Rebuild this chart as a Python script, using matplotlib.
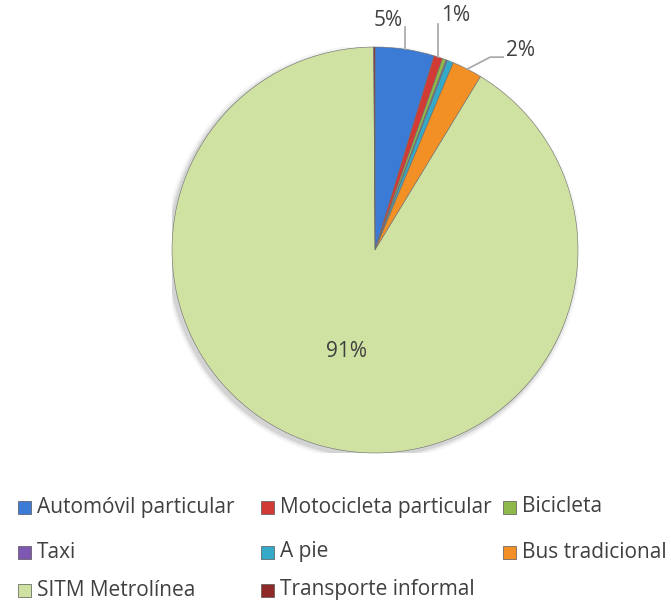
import numpy as np
import matplotlib.pyplot as plt
from matplotlib.patches import Rectangle, Circle

plt.rcParams['font.family'] = ['Open Sans', 'DejaVu Sans']

# modos de transporte (porcentaje de viajes)
modos = ['Automóvil particular', 'Motocicleta particular', 'Bicicleta',
         'Taxi', 'A pie', 'Bus tradicional', 'SITM Metrolínea',
         'Transporte informal']
valores = [4.7, 0.7, 0.3, 0.1, 0.5, 2.4, 91.2, 0.1]
colores = ['#3b7bd6', '#d23a36', '#8fb84a', '#7e57b0', '#35aac8',
           '#f39025', '#cfe2a2', '#8e2a28']
# etiquetas visibles en el grafico (las demas fueron borradas)
etiquetas = {0: '5%', 1: '1%', 5: '2%', 6: '91%'}

W, H = 671, 604
fig = plt.figure(figsize=(W / 100, H / 100), dpi=100)

cx, cy, r = 375, 250, 203
ax = fig.add_axes([(cx - r) / W, 1 - (cy + r) / H, 2 * r / W, 2 * r / H])

# sombra suave
for k, a in [(1.025, 0.04), (1.015, 0.06), (1.007, 0.08)]:
    ax.add_patch(Circle((-0.012, -0.014), k, color='k', alpha=a, lw=0, zorder=0))

wedges, _ = ax.pie(valores, colors=colores, startangle=90, counterclock=False,
                   radius=1, wedgeprops=dict(linewidth=0.4, edgecolor='#6d6d6d'))
for w in wedges:
    w.set_zorder(2)
ax.set_xlim(-1, 1)
ax.set_ylim(-1, 1)
ax.set_aspect('equal')
ax.axis('off')

txt_color = '#404040'
line_color = '#a6a6a6'
fs = 15

# posiciones de etiquetas: (dx, dy texto en px), puntos de la guia en px
ext = {
    0: ((-17, 29), [(0, 22)]),
    1: ((17, 42), [(0, 33)]),
    5: ((53, 19), [(23, 12), (36, 12)]),
}
acum = np.cumsum([0] + valores)
total = sum(valores)
for i, txt in etiquetas.items():
    mid = (acum[i] + acum[i + 1]) / 2 / total * 2 * np.pi
    ux, uy = np.sin(mid), np.cos(mid)
    if i in ext:
        (tdx, tdy), pts = ext[i]
        ex, ey = ux, uy
        xs = [ex] + [ex + px / r for px, py in pts]
        ys = [ey] + [ey + py / r for px, py in pts]
        ax.plot(xs, ys, color=line_color, lw=1.2, zorder=3, clip_on=False)
        ax.text(ex + tdx / r, ey + tdy / r, txt, ha='center', va='center',
                fontsize=fs, color=txt_color, zorder=4)
    else:
        ax.text(0.52 * ux, 0.52 * uy, txt, ha='center', va='center',
                fontsize=fs, color=txt_color, zorder=4)

# leyenda (3 columnas, orden por filas)
col_x = [18, 261, 503]
row_y = [507, 552, 590]
sq = 13
for j, (nombre, c) in enumerate(zip(modos, colores)):
    fila, col = divmod(j, 3)
    x0, y0 = col_x[col], row_y[fila]
    fig.patches.append(Rectangle((x0 / W, 1 - (y0 + sq / 2) / H), sq / W, sq / H,
                                 transform=fig.transFigure, facecolor=c,
                                 edgecolor='#555555', lw=0.5))
    fig.text((x0 + sq + 6) / W, 1 - y0 / H, nombre, ha='left', va='center',
             fontsize=fs, color=txt_color)

fig.savefig('out.png', dpi=100)
